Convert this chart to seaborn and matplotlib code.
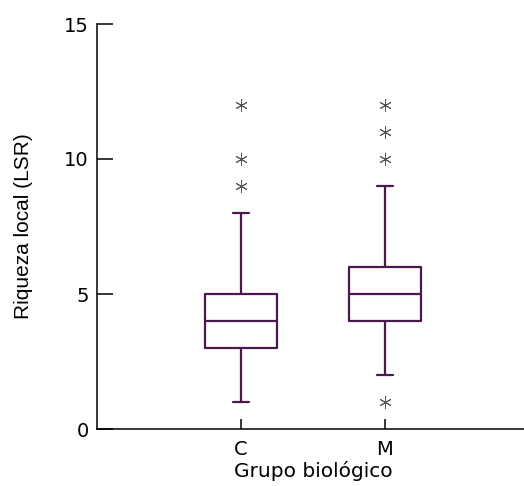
import numpy as np
import pandas as pd
import matplotlib
matplotlib.use("Agg")
import matplotlib.pyplot as plt
import seaborn as sns

# ---- data ----
groups = ["C", "M"]
riqueza_C = [1, 2, 2, 3, 3, 3, 3, 3, 4, 4, 4, 4, 4, 4, 4,
             5, 5, 5, 5, 5, 6, 7, 8, 9, 10, 12]
riqueza_M = [1, 2, 3, 4, 4, 4, 4, 4, 5, 5, 5, 5, 5, 5, 5,
             6, 6, 6, 6, 6, 7, 8, 9, 10, 11, 12]
whisker_rule = {"C": (0, 90), "M": (4, 90)}   # whisker percentiles per group
y_ticks = [0, 5, 10, 15]
x_title = "Grupo biológico"
y_title = "Riqueza local (LSR)"

df = pd.DataFrame({
    "grupo": ["C"] * len(riqueza_C) + ["M"] * len(riqueza_M),
    "riqueza": riqueza_C + riqueza_M,
})

sns.set_style("white")
plt.rcParams["font.family"] = ["DejaVu Sans"]
plt.rcParams["text.color"] = "black"
plt.rcParams["axes.labelcolor"] = "black"
plt.rcParams["xtick.color"] = "black"
plt.rcParams["ytick.color"] = "black"

box_col = "#4a1a4e"
fig = plt.figure(figsize=(5.24, 4.86), dpi=100)
ax = fig.add_axes([97 / 524, 57 / 486, 432 / 524, 405 / 486])

for g in groups:
    sns.boxplot(
        data=df[df["grupo"] == g], x="grupo", y="riqueza", order=groups,
        whis=whisker_rule[g], width=0.5, fill=False, color=box_col,
        linecolor=box_col, linewidth=1.6, capwidths=0.11,
        flierprops=dict(marker=(6, 2, 0), markersize=9, markeredgewidth=0.7,
                        markeredgecolor="#555555", markerfacecolor="none"),
        ax=ax,
    )

ax.set_xlim(-1.0, 2.0)
ax.set_ylim(0, 15)
ax.set_yticks(y_ticks)
ax.set_yticklabels([str(t) for t in y_ticks])

for s in ["top", "right"]:
    ax.spines[s].set_visible(False)
for s in ["left", "bottom"]:
    ax.spines[s].set_color("black")
    ax.spines[s].set_linewidth(1.1)

ax.tick_params(axis="y", direction="in", length=11.5, width=1.1, colors="black",
               labelsize=14, pad=6, left=True)
ax.tick_params(axis="x", direction="in", length=7.5, width=1.1, colors="black",
               labelsize=14, pad=8, bottom=True)

ax.set_xlabel(x_title, fontsize=14.5, labelpad=1, family="DejaVu Sans")
ax.set_ylabel(y_title, fontsize=15, labelpad=22, family="Liberation Sans")

fig.savefig("out.png", dpi=100)
